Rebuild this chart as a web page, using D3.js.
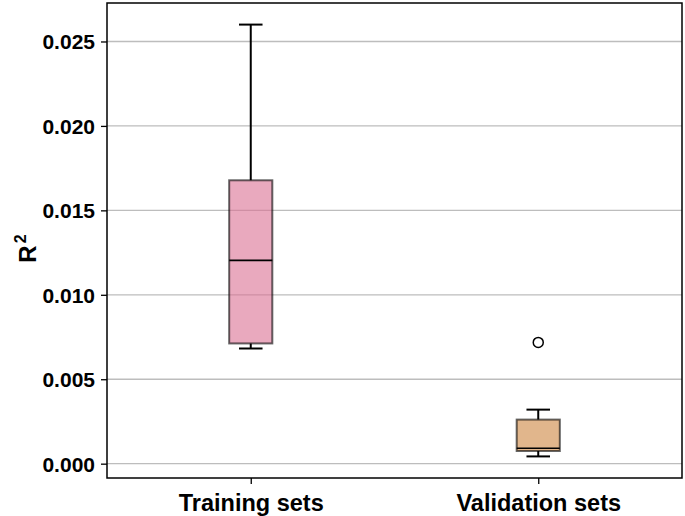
<!DOCTYPE html>
<html><head><meta charset="utf-8">
<script src="https://cdn.jsdelivr.net/npm/d3@7"></script>
<style>body{margin:0;background:#fff}svg{display:block}text{font-family:"Liberation Sans",Arial,sans-serif;font-weight:bold;fill:#000}</style>
</head><body>
<script>
const categories = ["Training sets", "Validation sets"];
const whiskerLow = [0.00682, 0.00043];
const q1 = [0.00712, 0.00075];
const median = [0.01204, 0.00091];
const q3 = [0.01678, 0.00261];
const whiskerHigh = [0.0260, 0.0032];
const outliers = [[], [0.00718]];
const fills = ["#db7093", "#cd853f"];
const yTicks = [0.000, 0.005, 0.010, 0.015, 0.020, 0.025];

const W = 685, H = 516;
const m = {l:107, r:3, t:3, b:38};
const svg = d3.select("body").append("svg").attr("width", W).attr("height", H);

const allVals = whiskerLow.concat(whiskerHigh, outliers.flat());
const lo = d3.min(allVals), hi = d3.max(allVals), pad = (hi - lo) * 0.05;
const y = d3.scaleLinear().domain([lo - pad, hi + pad]).range([H - m.b, m.t]);
const x = d3.scalePoint().domain(categories).range([m.l, W - m.r]).padding(0.5);
const boxW = (W - m.l - m.r) / 2 * 0.15;

// grid
svg.append("g").selectAll("line").data(yTicks).join("line")
  .attr("x1", m.l).attr("x2", W - m.r)
  .attr("y1", d => y(d)).attr("y2", d => y(d))
  .attr("stroke", "#bdbdbd").attr("stroke-width", 1.3);

// axes
const yAxis = svg.append("g").attr("transform", `translate(${m.l},0)`)
  .call(d3.axisLeft(y).tickValues(yTicks).tickFormat(d3.format(".3f")).tickSize(6).tickPadding(6));
const xAxis = svg.append("g").attr("transform", `translate(0,${H - m.b})`)
  .call(d3.axisBottom(x).tickSize(6).tickPadding(9));
[yAxis, xAxis].forEach(a => { a.select(".domain").remove(); a.selectAll("line").attr("stroke", "#000").attr("stroke-width", 1.3); });
yAxis.selectAll("text").style("font-size", "21px").attr("dy", "0.35em");
xAxis.selectAll("text").style("font-size", "23.5px").attr("dy", "0.75em");

// boxes
categories.forEach((c, i) => {
  const cx = x(c);
  const g = svg.append("g");
  g.append("line").attr("x1", cx).attr("x2", cx).attr("y1", y(q3[i])).attr("y2", y(whiskerHigh[i])).attr("stroke", "#000").attr("stroke-width", 2);
  g.append("line").attr("x1", cx).attr("x2", cx).attr("y1", y(q1[i])).attr("y2", y(whiskerLow[i])).attr("stroke", "#000").attr("stroke-width", 2);
  [whiskerHigh[i], whiskerLow[i]].forEach(v => {
    g.append("line").attr("x1", cx - boxW / 4 - 1).attr("x2", cx + boxW / 4 + 1).attr("y1", y(v)).attr("y2", y(v)).attr("stroke", "#000").attr("stroke-width", 2);
  });
  g.append("rect").attr("x", cx - boxW / 2).attr("width", boxW)
    .attr("y", y(q3[i])).attr("height", y(q1[i]) - y(q3[i]))
    .attr("fill", fills[i]).attr("fill-opacity", 0.6)
    .attr("stroke", "#000").attr("stroke-opacity", 0.6).attr("stroke-width", 2);
  g.append("line").attr("x1", cx - boxW / 2).attr("x2", cx + boxW / 2).attr("y1", y(median[i])).attr("y2", y(median[i])).attr("stroke", "#000").attr("stroke-width", 1.6);
  g.selectAll("circle").data(outliers[i]).join("circle")
    .attr("cx", cx).attr("cy", d => y(d)).attr("r", 5)
    .attr("fill", "none").attr("stroke", "#000").attr("stroke-width", 1.5);
});

// frame
svg.append("rect").attr("x", m.l).attr("y", m.t).attr("width", W - m.l - m.r).attr("height", H - m.t - m.b)
  .attr("fill", "none").attr("stroke", "#000").attr("stroke-width", 1.5);

// y label
const yl = svg.append("text").attr("transform", `translate(36,${(m.t + H - m.b) / 2 + 8}) rotate(-90)`)
  .attr("text-anchor", "middle").style("font-size", "24px");
yl.append("tspan").text("R");
yl.append("tspan").attr("dy", "-0.6em").attr("dx", "2").style("font-size", "16px").text("2");
</script>
</body></html>
